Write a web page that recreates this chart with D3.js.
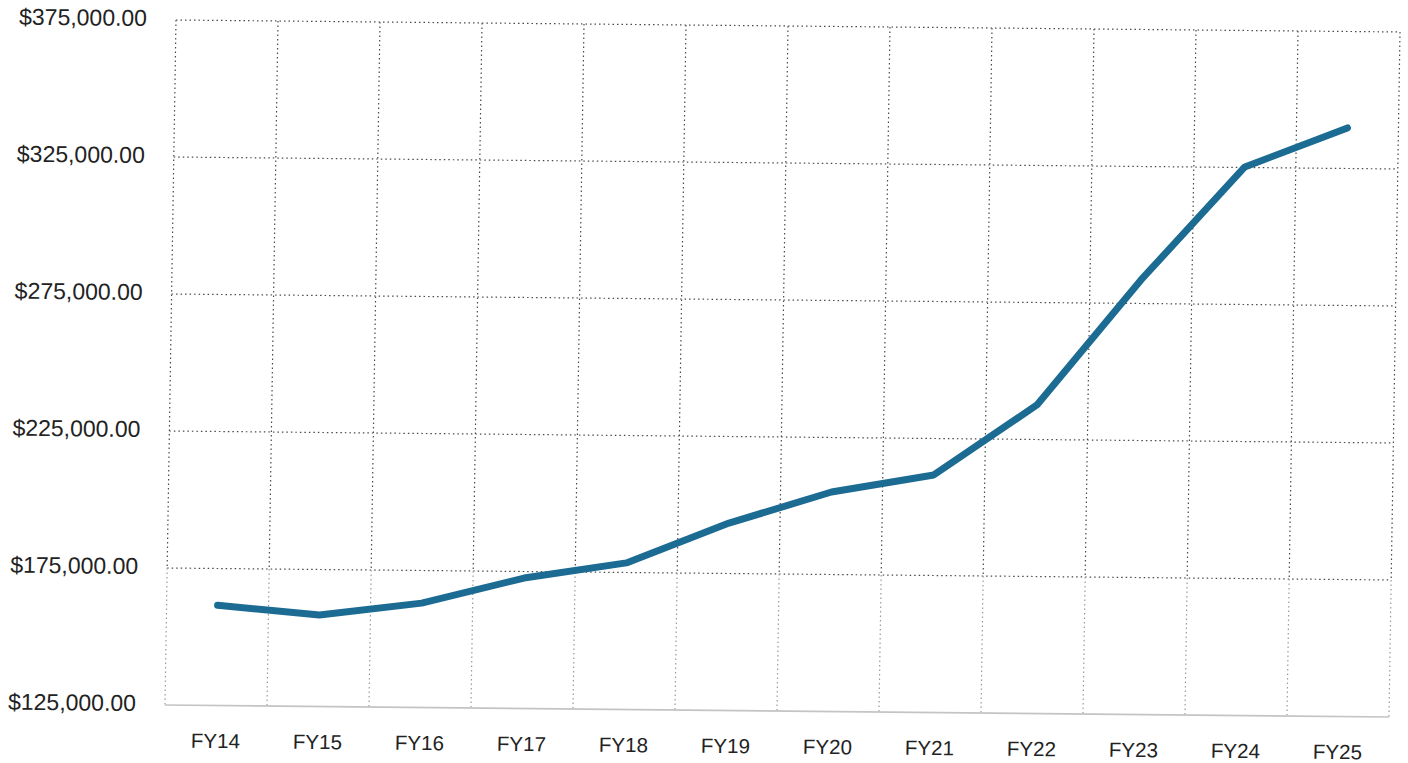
<!DOCTYPE html>
<html><head><meta charset="utf-8">
<script src="https://cdn.jsdelivr.net/npm/d3@7"></script>
<style>
html,body{margin:0;padding:0;background:#fff;}
svg{display:block;}
text{font-family:"Liberation Sans",Arial,sans-serif;fill:#222;}
</style></head>
<body><svg id="c" width="1408" height="763"></svg>
<script>
const categories = ["FY14","FY15","FY16","FY17","FY18","FY19","FY20","FY21","FY22","FY23","FY24","FY25"];
const values = [161600,158400,163100,172600,178500,193400,205100,211700,237600,283600,325200,339800];
const yTicks = [125000,175000,225000,275000,325000,375000];

(function () {
const svg = d3.select("#c");
const W = 1224, H = 685;
// scanned page is slightly skewed; reproduce it with one affine transform
const g = svg.append("g").attr("transform", "translate(176,20) matrix(1,0.0098,-0.0161,1,0,0)");

const x = d3.scaleBand().domain(categories).range([0, W]);
const y = d3.scaleLinear().domain([125000, 375000]).range([H, 0]);
const fmt = v => "$" + d3.format(",.2f")(v);
const font = '"Liberation Sans",Arial,sans-serif';

// horizontal gridlines
g.append("g").selectAll("line").data(yTicks.filter(t => t !== 125000)).join("line")
  .attr("x1", 0).attr("x2", W)
  .attr("y1", d => y(d)).attr("y2", d => y(d))
  .attr("stroke", "#4a4a4a").attr("stroke-width", 1.2).attr("stroke-dasharray", "1.5,3");

// vertical gridlines at band edges (upper part darker, lower part faded as in the scan)
const edges = categories.map(c => x(c)).concat([W]);
g.append("g").selectAll("line").data(edges).join("line")
  .attr("x1", d => d).attr("x2", d => d)
  .attr("y1", 0).attr("y2", y(175000))
  .attr("stroke", "#4a4a4a").attr("stroke-width", 1.2).attr("stroke-dasharray", "1.5,3");
g.append("g").selectAll("line").data(edges).join("line")
  .attr("x1", d => d).attr("x2", d => d)
  .attr("y1", y(175000)).attr("y2", H)
  .attr("stroke", "#9a9a9a").attr("stroke-width", 1.2).attr("stroke-dasharray", "1.5,3");

// baseline
g.append("line").attr("x1", 0).attr("x2", W)
  .attr("y1", H).attr("y2", H)
  .attr("stroke", "#c4c4c4").attr("stroke-width", 1.6);

// y axis labels
const ya = g.append("g").call(d3.axisLeft(y).tickValues(yTicks).tickFormat(fmt).tickSize(0).tickPadding(29));
ya.select(".domain").remove();
ya.selectAll("text").style("font-size", "23px").style("font-family", font).attr("fill", "#222").attr("dy", "0.25em");

// x axis labels
const xa = g.append("g").attr("transform", `translate(0,${H})`)
  .call(d3.axisBottom(x).tickSize(0).tickPadding(28));
xa.select(".domain").remove();
xa.selectAll("text").style("font-size", "20.5px").style("font-family", font).attr("fill", "#222");

// line
const line = d3.line().x((d, i) => x(categories[i]) + x.bandwidth() / 2).y(d => y(d));
g.append("path").datum(values)
  .attr("d", line)
  .attr("fill", "none")
  .attr("stroke", "#1b6b93")
  .attr("stroke-width", 7)
  .attr("stroke-linejoin", "round")
  .attr("stroke-linecap", "round");
})();
</script></body></html>
